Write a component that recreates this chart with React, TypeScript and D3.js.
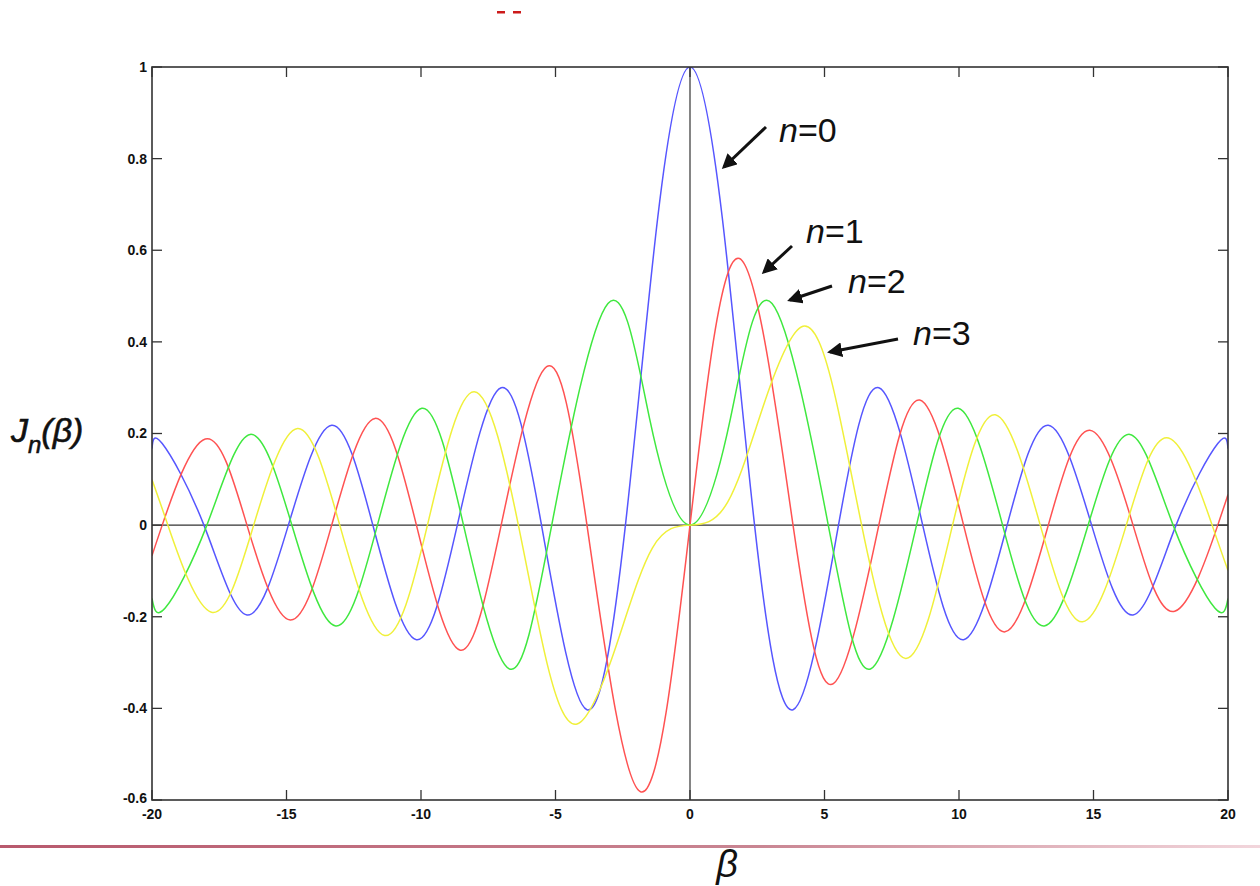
import React from "react";
import * as d3 from "d3";

// Bessel curves J0..J3: zeros, peaks and a few shape points
const j0X = [-20, -19.62, -18.07, -16.47, -14.93, -13.32, -11.79, -10.17, -8.65, -7.02, -5.52, -3.83, -2.4, -1.2, 0, 1.2, 2.4, 3.83, 5.52, 7.02, 8.65, 10.17, 11.79, 13.32, 14.93, 16.47, 18.07, 19.62, 20];
const j0Y = [0.167, 0.178, 0, -0.196, 0, 0.218, 0, -0.25, 0, 0.3, 0, -0.403, 0, 0.671, 1, 0.671, 0, -0.403, 0, 0.3, 0, -0.25, 0, 0.218, 0, -0.196, 0, 0.178, 0.167];

const j1X = [-20, -19.62, -18.02, -16.47, -14.86, -13.32, -11.71, -10.17, -8.54, -7.02, -5.33, -3.83, -1.84, 0, 1.84, 3.83, 5.33, 7.02, 8.54, 10.17, 11.71, 13.32, 14.86, 16.47, 18.02, 19.62, 20];
const j1Y = [-0.067, 0, 0.188, 0, -0.207, 0, 0.233, 0, -0.273, 0, 0.346, 0, -0.582, 0, 0.582, 0, -0.346, 0, 0.273, 0, -0.233, 0, 0.207, 0, -0.188, 0, 0.067];

const j2X = [-20, -19.51, -17.96, -16.35, -14.8, -13.17, -11.62, -9.97, -8.42, -6.71, -5.14, -3.05, -1.5, 0, 1.5, 3.05, 5.14, 6.71, 8.42, 9.97, 11.62, 13.17, 14.8, 16.35, 17.96, 19.51, 20];
const j2Y = [-0.16, -0.181, 0, 0.198, 0, -0.22, 0, 0.255, 0, -0.314, 0, 0.484, 0.232, 0, 0.232, 0.484, 0, -0.314, 0, 0.255, 0, -0.22, 0, 0.198, 0, -0.181, -0.16];

const j3X = [-20, -19.41, -17.79, -16.22, -14.59, -13.02, -11.35, -9.76, -8.02, -6.38, -5.3, -4.2, -2.8, -1.4, 0, 1.4, 2.8, 4.2, 5.3, 6.38, 8.02, 9.76, 11.35, 13.02, 14.59, 16.22, 17.79, 19.41, 20];
const j3Y = [0.099, 0, -0.19, 0, 0.211, 0, -0.241, 0, 0.291, 0, -0.305, -0.434, -0.273, -0.05, 0, 0.05, 0.273, 0.434, 0.305, 0, -0.291, 0, 0.241, 0, -0.211, 0, 0.19, 0, -0.099];

const seriesNames = ["n=0", "n=1", "n=2", "n=3"];
const seriesColors = ["#5656ff", "#ff5252", "#3fe83f", "#f0f03a"];
const xTicks = [-20, -15, -10, -5, 0, 5, 10, 15, 20];
const yTicks = [-0.6, -0.4, -0.2, 0, 0.2, 0.4, 0.6, 0.8, 1];

// annotation label positions: [textX, textBaseline, arrowFromX, arrowFromY, arrowToX, arrowToY]
const notes = [
  [779, 142, 766, 127, 724, 167],
  [806, 243, 792, 246, 764, 272],
  [848, 293, 832, 286, 790, 300],
  [913, 345, 898, 339, 830, 352],
];

const W = 1260;
const H = 886;
const left = 152, right = 1228, top = 67, bottom = 800;

export default function App() {
  const x = d3.scaleLinear().domain([-20, 20]).range([left, right]);
  const y = d3.scaleLinear().domain([-0.6, 1]).range([bottom, top]);
  const line = d3
    .line<[number, number]>()
    .x((d) => x(d[0]))
    .y((d) => y(d[1]))
    .curve(d3.curveNatural);

  const data = [
    [j0X, j0Y],
    [j1X, j1Y],
    [j2X, j2Y],
    [j3X, j3Y],
  ].map(([xs, ys]) => xs.map((v, i) => [v, ys[i]] as [number, number]));

  const tickFont = { fontFamily: "Liberation Sans, Arial, sans-serif", fontWeight: 700, fontSize: 14 };
  const frame = "#333";

  return (
    <svg width={W} height={H} style={{ position: "absolute", left: 0, top: 0, display: "block" }}>
      <defs>
        <linearGradient id="redline" x1="0" x2="1" y1="0" y2="0">
          <stop offset="0%" stopColor="#b8596d" />
          <stop offset="60%" stopColor="#c98592" />
          <stop offset="100%" stopColor="#f2d6dc" />
        </linearGradient>
        <marker id="arrow" viewBox="0 0 10 10" refX="8" refY="5" markerWidth="5" markerHeight="5" orient="auto">
          <path d="M0,0 L10,5 L0,10 z" fill="#111" />
        </marker>
        <clipPath id="plotclip">
          <rect x={left} y={top} width={right - left} height={bottom - top} />
        </clipPath>
      </defs>

      <rect x={0} y={0} width={W} height={H} fill="#ffffff" />
      {/* small red marks at the top */}
      <rect x={497} y={11} width={8} height={2.5} fill="#cc1a1a" />
      <rect x={513} y={11} width={8} height={2.5} fill="#cc1a1a" />

      {/* zero lines */}
      <line x1={left} x2={right} y1={y(0)} y2={y(0)} stroke={frame} strokeWidth={1.2} />
      <line x1={x(0)} x2={x(0)} y1={top} y2={bottom} stroke={frame} strokeWidth={1.2} />

      <g clipPath="url(#plotclip)">
        {data.map((d, i) => (
          <path key={i} d={line(d) || ""} fill="none" stroke={seriesColors[i]} strokeWidth={1.5} />
        ))}
      </g>

      {/* frame and ticks */}
      <rect x={left} y={top} width={right - left} height={bottom - top} fill="none" stroke={frame} strokeWidth={1.6} />
      {xTicks.map((t) => (
        <g key={"x" + t}>
          <line x1={x(t)} x2={x(t)} y1={bottom} y2={bottom - 10} stroke={frame} strokeWidth={1.3} />
          <line x1={x(t)} x2={x(t)} y1={top} y2={top + 10} stroke={frame} strokeWidth={1.3} />
          <text x={x(t)} y={819} textAnchor="middle" style={tickFont} fill="#111">
            {String(t)}
          </text>
        </g>
      ))}
      {yTicks.map((t) => (
        <g key={"y" + t}>
          <line x1={left} x2={left + 10} y1={y(t)} y2={y(t)} stroke={frame} strokeWidth={1.3} />
          <line x1={right} x2={right - 10} y1={y(t)} y2={y(t)} stroke={frame} strokeWidth={1.3} />
          <text x={147} y={y(t) - (t === -0.6 ? 2 : 0)} dy="0.35em" textAnchor="end" style={tickFont} fill="#111">
            {String(+t.toFixed(1))}
          </text>
        </g>
      ))}

      {/* annotations */}
      {notes.map((n, i) => (
        <g key={"n" + i}>
          <line x1={n[2]} y1={n[3]} x2={n[4]} y2={n[5]} stroke="#111" strokeWidth={3} markerEnd="url(#arrow)" />
          <text x={n[0]} y={n[1]} style={{ fontFamily: "Liberation Sans, Arial, sans-serif", fontSize: 34 }} fill="#111">
            <tspan fontStyle="italic">n</tspan>
            <tspan>{seriesNames[i].slice(1)}</tspan>
          </text>
        </g>
      ))}

      {/* axis labels */}
      <text x={11} y={442} style={{ fontFamily: "Liberation Sans, Arial, sans-serif", fontSize: 34, fontStyle: "italic" }} fill="#111" stroke="#111" strokeWidth={0.6}>
        <tspan>J</tspan>
        <tspan fontSize={24} dy={11}>n</tspan>
        <tspan dy={-11}>(β)</tspan>
      </text>
      <text x={727} y={877} textAnchor="middle" style={{ fontFamily: "Liberation Sans, Arial, sans-serif", fontSize: 38, fontStyle: "italic" }} fill="#111">
        β
      </text>

      {/* red rule under the chart */}
      <rect x={0} y={845} width={W} height={3} fill="url(#redline)" />
    </svg>
  );
}
